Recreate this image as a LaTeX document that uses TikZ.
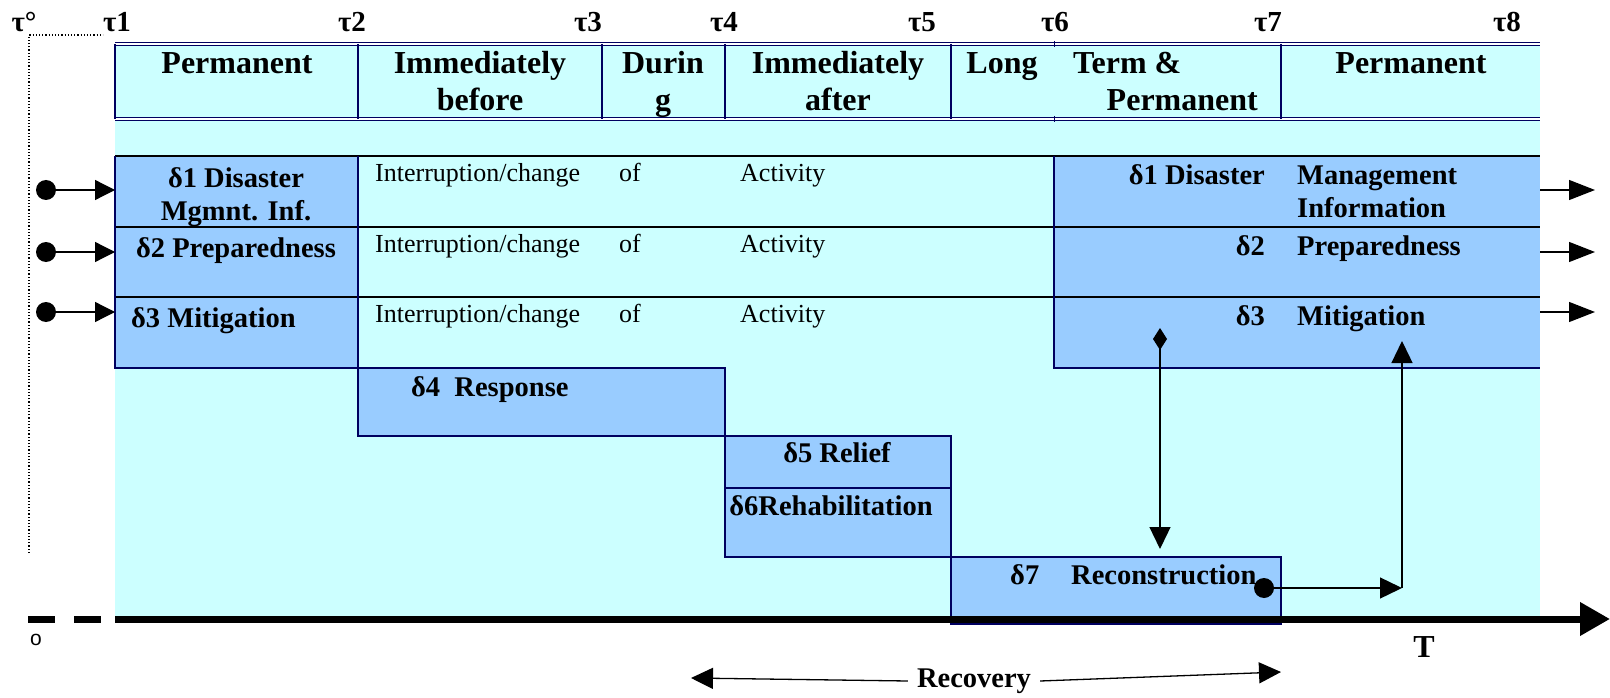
\documentclass[tikz,border=0pt]{standalone}
\usepackage{fontspec}
\setmainfont{Liberation Serif}
\setsansfont{Liberation Sans}
\usetikzlibrary{arrows.meta}
\definecolor{paleCyan}{HTML}{CCFFFF}
\definecolor{phaseBlue}{HTML}{99CCFF}
\definecolor{edgeNavy}{HTML}{000060}

\begin{document}
\begin{tikzpicture}[x=1pt, y=-1pt,
    hdr/.style={font=\fontsize{32}{36}\selectfont\bfseries, inner sep=0pt, anchor=base},
    tau/.style={font=\fontsize{29}{32}\selectfont\bfseries, inner sep=0pt, anchor=base},
    lbl/.style={font=\fontsize{28.5}{32}\selectfont\bfseries, inner sep=0pt, anchor=base},
    txt/.style={font=\fontsize{26}{30}\selectfont, inner sep=0pt, anchor=base west},
    phase/.style={fill=phaseBlue, draw=edgeNavy, line width=1.5pt},
    tip/.style={-{Triangle[length=22pt,width=21pt]}, line width=1.3pt},
    dot/.style={circle, fill=black, inner sep=0pt, minimum size=20pt}]
    \useasboundingbox (0,0) rectangle (1610,698);

    % background and time header
    \fill[paleCyan] (115,44) rectangle (1540,619);
    \draw[edgeNavy, line width=1pt, double distance=1.5pt] (115,44) -- (1540,44);
    \draw[edgeNavy, line width=1pt, double distance=1.5pt] (115,119) -- (1540,119);
    \foreach \x in {115, 358, 602, 725, 951, 1281}
        \draw[edgeNavy, line width=1.5pt] (\x,44) -- (\x,119);
    \draw[edgeNavy, line width=1pt] (1054,41) -- (1054,47);
    \draw[edgeNavy, line width=1pt] (1054,116) -- (1054,122);

    % phases kept before and after
    \fill[phaseBlue] (115,156) rectangle (358,368);
    \fill[phaseBlue] (1054,156) rectangle (1540,368);
    \foreach \y in {156, 227, 297}
        \draw[line width=2pt] (115,\y) -- (1540,\y);
    \draw[edgeNavy, line width=1.5pt] (115,156) -- (115,368) -- (358,368) -- (358,156);
    \draw[edgeNavy, line width=1.5pt] (1054,156) -- (1054,368) -- (1540,368);

    % phases during the event
    \filldraw[phase] (358,368) rectangle (725,436);
    \filldraw[phase] (725,436) rectangle (951,488);
    \filldraw[phase] (725,488) rectangle (951,557);
    \filldraw[phase] (951,557) rectangle (1281,624);

    % time axis
    \draw[line width=7pt, dash pattern=on 27pt off 19pt] (28,619) -- (101,619);
    \coordinate (axisStart) at (115,619);
    \coordinate (axisEnd) at (1610,619);
    \draw[line width=7pt, -{Triangle[length=30pt,width=32pt]}] (axisStart) -- (axisEnd);
    \draw[dotted, line width=1.2pt] (29,553) -- (29,35) -- (103,35);

    % tau marks
    \node[tau] (tau0) at (24,32) {τ°};
    \foreach \n/\x in {1/117, 2/352, 3/588, 4/724, 5/922, 6/1055, 7/1268, 8/1507}
        \node[tau] (tau\n) at (\x,32) {τ\n};

    % header texts
    \node[hdr] (hPermA) at (237,74) {Permanent};
    \node[hdr] (hBeforeA) at (480,74) {Immediately};
    \node[hdr] (hBeforeB) at (480,111) {before};
    \node[hdr] (hDuringA) at (663,74) {Durin};
    \node[hdr] (hDuringB) at (663,111) {g};
    \node[hdr] (hAfterA) at (838,74) {Immediately};
    \node[hdr] (hAfterB) at (838,111) {after};
    \node[hdr] (hLong) at (1002,74) {Long};
    \node[hdr, anchor=base west] (hTerm) at (1073,74) {Term \&};
    \node[hdr, anchor=base east] (hPermB) at (1258,111) {Permanent};
    \node[hdr] (hPermC) at (1411,74) {Permanent};

    % row texts
    \node[lbl] (dOneA) at (236,188) {δ1 Disaster};
    \node[lbl] (dOneB) at (236,220) {Mgmnt. Inf.};
    \node[lbl] (dTwo) at (236,257) {δ2 Preparedness};
    \node[lbl, anchor=base west] (dThree) at (131,327) {δ3 Mitigation};
    \foreach \r/\y in {1/182, 2/252, 3/322} {
        \node[txt] (intr\r) at (375,\y) {Interruption/change};
        \node[txt] (of\r) at (619,\y) {of};
        \node[txt] (act\r) at (740,\y) {Activity};
    }
    \node[lbl, anchor=base east] (rOneA) at (1265,185) {δ1 Disaster};
    \node[lbl, anchor=base west] (rOneB) at (1297,185) {Management};
    \node[lbl, anchor=base west] (rOneC) at (1297,218) {Information};
    \node[lbl, anchor=base east] (rTwoA) at (1265,255) {δ2};
    \node[lbl, anchor=base west] (rTwoB) at (1297,255) {Preparedness};
    \node[lbl, anchor=base east] (rThreeA) at (1265,325) {δ3};
    \node[lbl, anchor=base west] (rThreeB) at (1297,325) {Mitigation};
    \node[lbl, anchor=base west] (dFour) at (411,396) {δ4\hspace{0.5em}Response};
    \node[lbl] (dFive) at (837,462) {δ5 Relief};
    \node[lbl] (dSix) at (831,515) {δ6Rehabilitation};
    \node[lbl, anchor=base west] (dSevenA) at (1010,584) {δ7};
    \node[lbl, anchor=base west] (dSevenB) at (1071,584) {Reconstruction};
    \node[hdr] (tAxis) at (1424,657) {T};
    \node[font=\sffamily\fontsize{21}{24}\selectfont, inner sep=0pt, anchor=base] (origin) at (36,645) {o};

    % arrows into and out of the chart
    \foreach \r/\y in {1/190, 2/252, 3/312} {
        \node[dot] (inDot\r) at (46,\y) {};
        \coordinate (inEnd\r) at (115,\y);
        \draw[tip, -{Triangle[length=20pt,width=20pt]}] (inDot\r) -- (inEnd\r);
        \coordinate (outStart\r) at (1540,\y);
        \coordinate (outEnd\r) at (1595,\y);
        \draw[tip, -{Triangle[length=26pt,width=20pt]}] (outStart\r) -- (outEnd\r);
    }

    % feedback between mitigation and reconstruction
    \coordinate (mitStart) at (1160,328);
    \coordinate (recTop) at (1160,549);
    \draw[tip, {Diamond[length=22pt,width=14pt]}-{Triangle[length=22pt,width=21pt]}] (mitStart) -- (recTop);
    \node[dot] (recDot) at (1264,588) {};
    \coordinate (recTurn) at (1402,588);
    \coordinate (mitTip) at (1402,341);
    \draw[tip] (recDot) -- (recTurn);
    \draw[tip] (recTurn) -- (mitTip);

    % recovery span
    \node[lbl, anchor=center, inner xsep=9pt] (recovery) at (974,681) {Recovery};
    \coordinate (recLeft) at (691,678);
    \coordinate (recRight) at (1281,672);
    \draw[tip] (recovery.west) -- (recLeft);
    \draw[tip] (recovery.east) -- (recRight);
\end{tikzpicture}
\end{document}
